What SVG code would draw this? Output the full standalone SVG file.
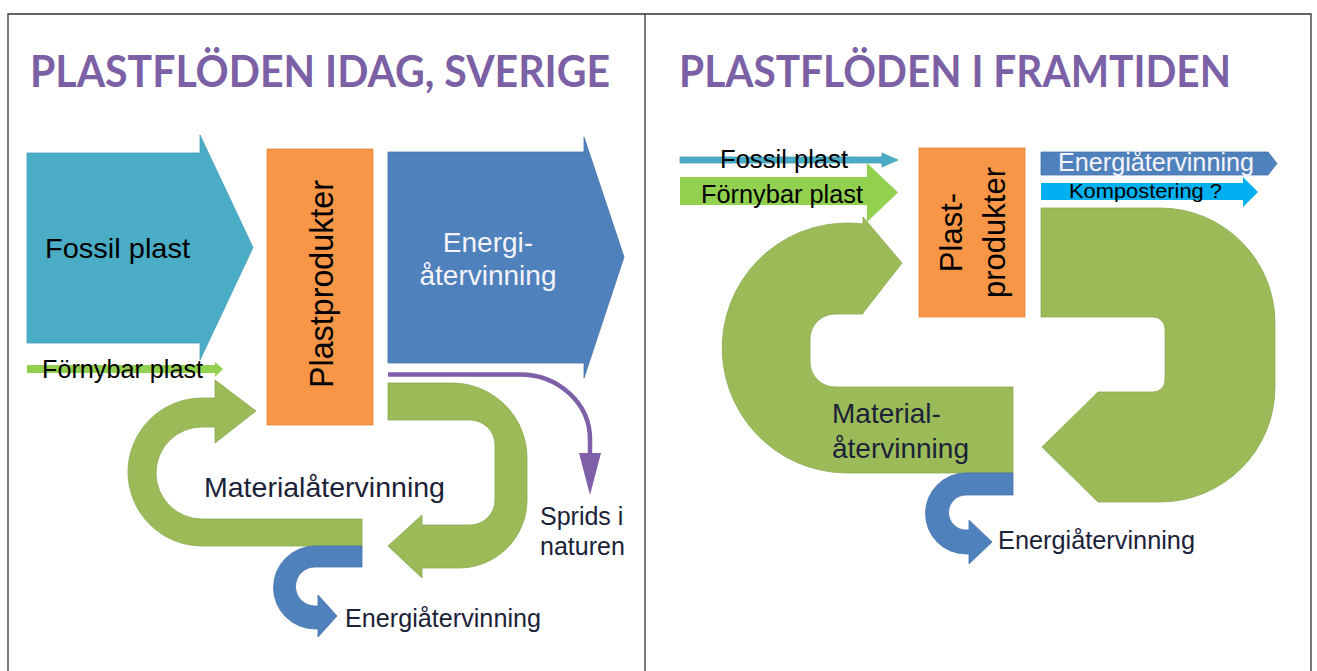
<svg xmlns="http://www.w3.org/2000/svg" width="1317" height="671" viewBox="0 0 1317 671">
<style>
.t{font-family:"Liberation Sans",Arial,sans-serif;}
.title{font-family:Lato,"Open Sans",sans-serif;font-weight:700;font-size:44px;fill:#7B60A6;}
.dark{fill:#1B2238;}
.blk{fill:#000;}
.wht{fill:#F4F4F8;}
.frame{stroke:#333;stroke-width:1.3;fill:none;}
.green{fill:#9BBB59;stroke:#8CAA50;stroke-width:0.8;}
.blue{fill:#4F81BD;stroke:#4675AE;stroke-width:0.8;}
.aqua{fill:#4BACC6;stroke:#45A0B9;stroke-width:0.8;}
.orange{fill:#F79646;stroke:#E0883F;stroke-width:0.8;}
.sky{fill:#00B0F0;}
.purple{stroke:#7F5FA8;stroke-width:4.5;fill:none;}
</style>
<rect width="1317" height="671" fill="#fff"/>
<g id="frame">
<path class="frame" d="M8,671 V14 H1311 V671"/>
<path class="frame" d="M645,14 V671"/>
</g>
<g id="titles">
<text class="title" x="30" y="87" textLength="580" lengthAdjust="spacingAndGlyphs">PLASTFLÖDEN IDAG, SVERIGE</text>
<text class="title" x="679" y="87" textLength="552" lengthAdjust="spacingAndGlyphs">PLASTFLÖDEN I FRAMTIDEN</text>
</g>

<!-- LEFT PANEL -->
<g id="l-fossil">
<polygon class="aqua" points="27,153 200,153 200,135 253,247.5 200,360 200,343 27,343"/>
<text class="t blk" x="45" y="258" font-size="28" textLength="145" lengthAdjust="spacingAndGlyphs">Fossil plast</text>
</g>
<g id="l-fornybar">
<polygon fill="#92D050" points="27,365 215,365 215,362 223,369 215,377 215,373 27,373"/>
<text class="t blk" x="42" y="378" font-size="25" textLength="161" lengthAdjust="spacingAndGlyphs">Förnybar plast</text>
</g>
<g id="l-plastprodukter">
<rect class="orange" x="267" y="149" width="106" height="276"/>
<text class="t blk" transform="translate(333,284) rotate(-90)" text-anchor="middle" font-size="33" textLength="208" lengthAdjust="spacingAndGlyphs">Plastprodukter</text>
</g>
<g id="l-energi">
<polygon class="blue" points="388,152 584,152 584,137 624,257 584,378 584,363 388,363"/>
<text class="t wht" x="488" y="252" text-anchor="middle" font-size="28">Energi-</text>
<text class="t wht" x="488" y="285" text-anchor="middle" font-size="28">återvinning</text>
</g>
<g id="l-material-retur">
<path class="green" d="M388,383 H452 A75,75 0 0 1 527,458 V500 A68,68 0 0 1 459,568 H422 V578 L388,546 L422,515 V525 H470 A25,25 0 0 0 495,500 V445 A25,25 0 0 0 470,420 H388 Z"/>
</g>
<g id="l-material-loop">
<path class="green" d="M362,519 H202 A46,46 0 0 1 202,427 H215 V443 L256,411 L215,380 V398 H202 A74,74 0 0 0 202,546 H362 Z"/>
<text class="t dark" x="204" y="497" font-size="28" textLength="241" lengthAdjust="spacingAndGlyphs">Materialåtervinning</text>
</g>
<g id="l-energi-small">
<path class="blue" d="M362,546 H315 A41.5,41.5 0 0 0 315,629 H318 V637 L337,616 L318,595 V606 H315 A19.5,19.5 0 0 1 315,567 H362 Z"/>
<text class="t dark" x="345" y="627" font-size="25" textLength="196" lengthAdjust="spacingAndGlyphs">Energiåtervinning</text>
</g>
<g id="l-sprids">
<text class="t dark" x="540" y="525" font-size="25">Sprids i</text>
<text class="t dark" x="540" y="555" font-size="25">naturen</text>
</g>

<!-- RIGHT PANEL -->
<g id="r-fossil">
<polygon class="aqua" points="680,157 882,157 882,153 898,160 882,167 882,163 680,163"/>
<text class="t blk" x="720" y="168" font-size="25" textLength="128" lengthAdjust="spacingAndGlyphs">Fossil plast</text>
</g>
<g id="r-fornybar">
<polygon fill="#92D050" points="680,177 867,177 867,163 898,192.5 867,222 867,205 680,205"/>
<text class="t blk" x="701" y="203" font-size="25" textLength="162" lengthAdjust="spacingAndGlyphs">Förnybar plast</text>
</g>
<g id="r-plastprodukter">
<rect class="orange" x="919" y="148" width="106" height="169"/>
<text class="t blk" transform="translate(962,232.5) rotate(-90)" text-anchor="middle" font-size="31">Plast-</text>
<text class="t blk" transform="translate(1005,232.5) rotate(-90)" text-anchor="middle" font-size="31">produkter</text>
</g>
<g id="r-energi">
<polygon class="blue" points="1041,152 1268,152 1277,163.5 1268,175 1041,175"/>
<text class="t wht" x="1058" y="171" font-size="25" textLength="196" lengthAdjust="spacingAndGlyphs">Energiåtervinning</text>
</g>
<g id="r-kompost">
<polygon class="sky" points="1041,183 1243,183 1243,177 1258,192 1243,207 1243,200 1041,200"/>
<text class="t blk" x="1069" y="198" font-size="21" textLength="153" lengthAdjust="spacingAndGlyphs">Kompostering ?</text>
</g>
<g id="r-material-loop">
<path class="green" d="M1013,387 H835 A25,25 0 0 1 810,362 V339 A25,25 0 0 1 835,314 H863 V313 L902,263 L863,217 V224 A125,125 0 1 0 847,473 H1013 Z"/>
<text class="t dark" x="832" y="423" font-size="28">Material-</text>
<text class="t dark" x="832" y="458" font-size="28">återvinning</text>
</g>
<g id="r-material-retur">
<path class="green" d="M1041,208 H1160 A115,115 0 0 1 1275,323 V387 A115,115 0 0 1 1160,502 H1098 L1042,447 L1098,392 H1153 A12,12 0 0 0 1165,380 V329 A12,12 0 0 0 1153,317 H1041 Z"/>
</g>
<g id="r-energi-small">
<path class="blue" d="M1013,473 H966 A40.5,40.5 0 0 0 966,554 H969 V564 L992,542 L969,520 V530 H966 A17.5,17.5 0 0 1 966,495 H1013 Z"/>
<text class="t dark" x="998" y="549" font-size="25" textLength="197" lengthAdjust="spacingAndGlyphs">Energiåtervinning</text>
</g>

<g id="connectors">
<path class="purple" d="M388,374.5 H520 A70,65 0 0 1 590,440 V456"/>
<polygon fill="#7F5FA8" points="579,453 601,453 590,495"/>
</g>
</svg>
